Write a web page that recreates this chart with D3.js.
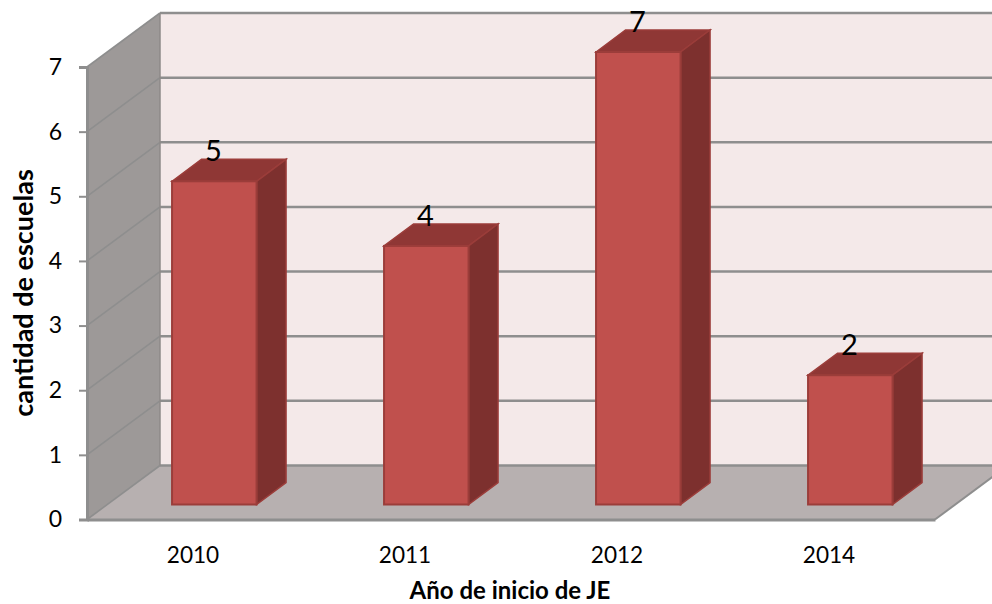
<!DOCTYPE html>
<html><head><meta charset="utf-8">
<script src="https://cdnjs.cloudflare.com/ajax/libs/d3/7.8.5/d3.min.js"></script>
<style>html,body{margin:0;padding:0;background:#fff;overflow:hidden}svg{display:block}text{font-family:Lato,sans-serif;fill:#000}</style>
</head><body><svg id="c" width="992" height="604"></svg>
<script>
const categories=["2010","2011","2012","2014"];
const values=[5,4,7,2];
const yTicks=[0,1,2,3,4,5,6,7];
const xTitle="Año de inicio de JE";
const yTitle="cantidad de escuelas";

const svg=d3.select("#c");
const x=d3.scaleBand().domain(categories).range([87,935]);
const y=d3.scaleLinear().domain([0,7]).range([519.5,67]);
const wall={dx:73,dy:-54};
const bar={dx:29.5,dy:-22,w:84.5,ox:21.3,oy:-15};
const grid="#8e8e8e";
const pts=a=>a.map(p=>p.join(",")).join(" ");
const x0=x.range()[0],x1=x.range()[1];

svg.append("polygon").attr("points",pts([[x0+wall.dx,y(7)+wall.dy],[1000,y(7)+wall.dy],[1000,y(0)+wall.dy],[x0+wall.dx,y(0)+wall.dy]])).attr("fill","#f4e9e9");
svg.append("polygon").attr("points",pts([[x0,y(7)],[x0+wall.dx,y(7)+wall.dy],[x0+wall.dx,y(0)+wall.dy],[x0,y(0)]])).attr("fill","#9d9998");
svg.append("polygon").attr("points",pts([[x0,y(0)],[x0+wall.dx,y(0)+wall.dy],[x1+wall.dx,y(0)+wall.dy],[x1,y(0)]])).attr("fill","#b7b0b0");
svg.selectAll(".gb").data(yTicks).join("line").attr("x1",x0+wall.dx).attr("x2",1000)
  .attr("y1",d=>y(d)+wall.dy).attr("y2",d=>y(d)+wall.dy).attr("stroke",grid).attr("stroke-width",2.5);
svg.selectAll(".gs").data(yTicks).join("line").attr("x1",x0).attr("x2",x0+wall.dx)
  .attr("y1",d=>y(d)).attr("y2",d=>y(d)+wall.dy).attr("stroke",grid).attr("stroke-width",1.6);
svg.append("line").attr("x1",x1).attr("x2",x1+wall.dx).attr("y1",y(0)).attr("y2",y(0)+wall.dy).attr("stroke",grid).attr("stroke-width",2);
svg.append("line").attr("x1",x0+wall.dx).attr("x2",x0+wall.dx).attr("y1",y(7)+wall.dy).attr("y2",y(0)+wall.dy).attr("stroke","#8e8a89").attr("stroke-width",1.5);

const yAxis=d3.axisLeft(y).tickValues(yTicks).tickSize(8).tickPadding(17).tickFormat(d3.format("d"));
const gy=svg.append("g").attr("transform",`translate(${x0},0)`).call(yAxis);
gy.select(".domain").attr("stroke",grid).attr("stroke-width",3);
gy.selectAll("line").attr("stroke",grid).attr("stroke-width",2);
gy.selectAll("text").style("font-size","23px").style("font-family","Lato,sans-serif");
const xAxis=d3.axisBottom(x).tickSize(0).tickPadding(27);
const gx=svg.append("g").attr("transform",`translate(0,${y(0)})`).call(xAxis);
gx.select(".domain").attr("stroke",grid).attr("stroke-width",3);
gx.selectAll("text").style("font-size","22.6px").style("font-family","Lato,sans-serif");

const g=svg.selectAll(".b").data(categories.map((c,i)=>({c,v:values[i]}))).join("g");
const L=d=>x(d.c)+x.bandwidth()/2-bar.w/2+bar.ox;
const T=d=>y(d.v)+bar.oy;
const B=()=>y(0)+bar.oy;
const st="#9b3d3a";
g.append("polygon").attr("fill","#8f3735").attr("stroke",st).attr("stroke-width",1.5)
 .attr("points",d=>pts([[L(d),T(d)],[L(d)+bar.dx,T(d)+bar.dy],[L(d)+bar.w+bar.dx,T(d)+bar.dy],[L(d)+bar.w,T(d)]]));
g.append("polygon").attr("fill","#7d302e").attr("stroke",st).attr("stroke-width",1.5)
 .attr("points",d=>pts([[L(d)+bar.w,T(d)],[L(d)+bar.w+bar.dx,T(d)+bar.dy],[L(d)+bar.w+bar.dx,B()+bar.dy],[L(d)+bar.w,B()]]));
g.append("rect").attr("fill","#c0504d").attr("stroke",st).attr("stroke-width",2)
 .attr("x",L).attr("y",T).attr("width",bar.w).attr("height",d=>B()-T(d));
g.append("text").attr("x",d=>L(d)+bar.w/2-1).attr("y",d=>T(d)-20).attr("text-anchor","middle").style("font-size","29px").text(d=>d.v);

svg.append("text").attr("x",510).attr("y",599).attr("text-anchor","middle").style("font-size","24px").style("font-weight",700).text(xTitle);
svg.append("text").attr("transform","translate(33,293) rotate(-90)").attr("text-anchor","middle").style("font-size","27px").style("font-weight",700).text(yTitle);
</script></body></html>
